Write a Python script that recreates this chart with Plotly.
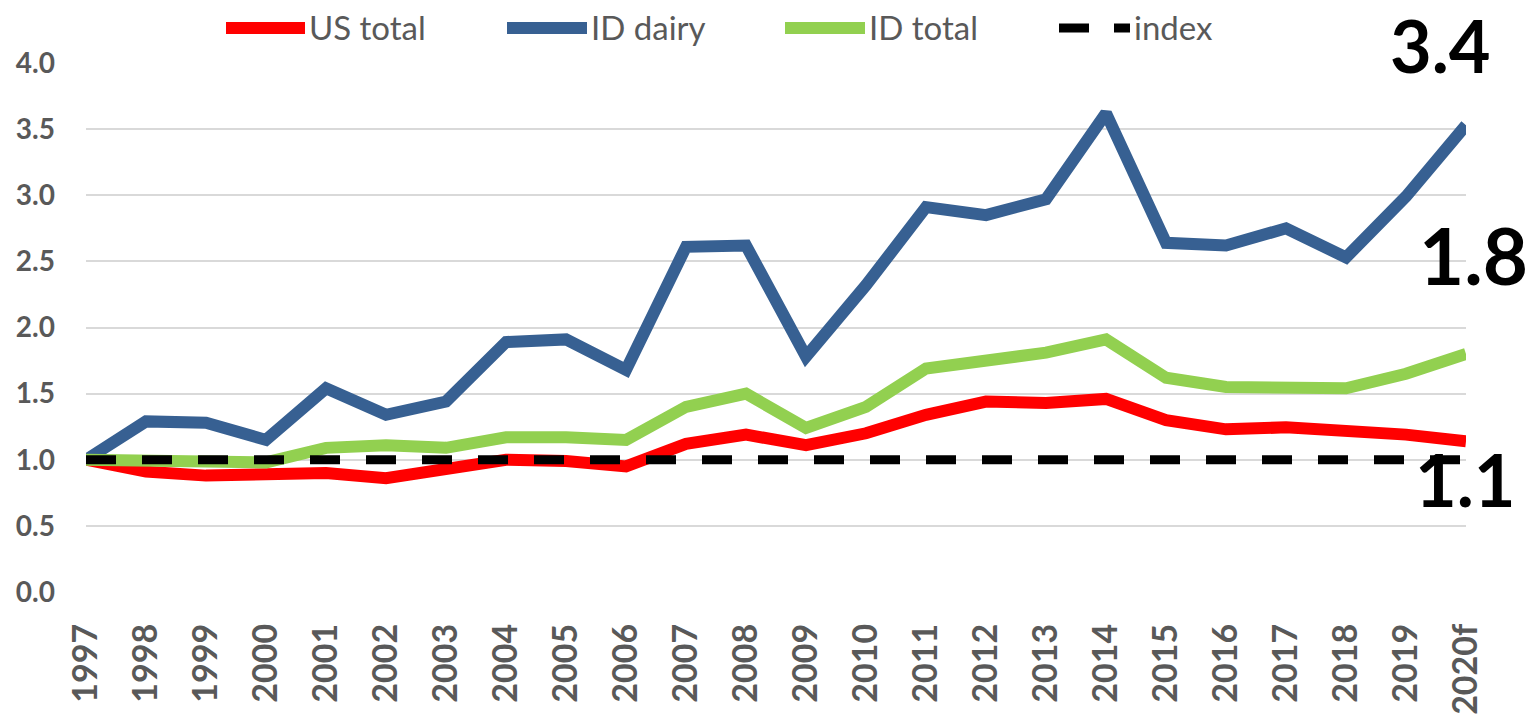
import plotly.graph_objects as go

years = ["1997", "1998", "1999", "2000", "2001", "2002", "2003", "2004", "2005", "2006",
         "2007", "2008", "2009", "2010", "2011", "2012", "2013", "2014", "2015", "2016",
         "2017", "2018", "2019", "2020f"]
us_total = [1.00, 0.91, 0.88, 0.88, 0.90, 0.86, 0.93, 1.00, 0.99, 0.95,
            1.12, 1.19, 1.11, 1.20, 1.34, 1.44, 1.43, 1.46, 1.30, 1.23,
            1.245, 1.22, 1.19, 1.14]
id_dairy = [1.00, 1.29, 1.28, 1.15, 1.54, 1.34, 1.44, 1.89, 1.91, 1.68,
            2.61, 2.62, 1.78, 2.32, 2.91, 2.85, 2.97, 3.62, 2.64, 2.62,
            2.75, 2.53, 2.99, 3.53]
id_total = [1.00, 1.00, 0.99, 0.98, 1.09, 1.11, 1.09, 1.17, 1.17, 1.15,
            1.40, 1.50, 1.24, 1.40, 1.69, 1.76, 1.81, 1.91, 1.62, 1.55,
            1.545, 1.54, 1.65, 1.80]
index_line = [1.0, 1.0, 1.0, 1.0, 1.0, 1.0, 1.0, 1.0, 1.0, 1.0,
              1.0, 1.0, 1.0, 1.0, 1.0, 1.0, 1.0, 1.0, 1.0, 1.0,
              1.0, 1.0, 1.0, 1.0]
series_names = ["US total", "ID dairy", "ID total", "index"]
y_ticks = [0.0, 0.5, 1.0, 1.5, 2.0, 2.5, 3.0, 3.5, 4.0]
y_tick_text = ["0.0", "0.5", "1.0", "1.5", "2.0", "2.5", "3.0", "3.5", "4.0"]
end_labels = ["3.4", "1.8", "1.1"]

W, H = 1537, 718
L, R, T, B = 86, 1466, 63, 592
FONT = "Lato, 'Open Sans', sans-serif"
GRAY = "#595959"
RED, BLUE, GREEN, BLACK = "#FF0000", "#376092", "#92D050", "#000000"


def px(x):
    return (x - L) / (R - L)


def py(y):
    return (B - y) / (B - T)


fig = go.Figure()
fig.add_trace(go.Scatter(x=years, y=us_total, name=series_names[0], mode="lines",
                         line=dict(color=RED, width=12)))
fig.add_trace(go.Scatter(x=years, y=id_dairy, name=series_names[1], mode="lines",
                         line=dict(color=BLUE, width=12)))
fig.add_trace(go.Scatter(x=years, y=id_total, name=series_names[2], mode="lines",
                         line=dict(color=GREEN, width=12)))
fig.add_trace(go.Scatter(x=years, y=index_line, name=series_names[3], mode="lines",
                         line=dict(color=BLACK, width=9, dash="30px,26px")))

# custom legend (long line samples like the reference)
legend_items = [
    (series_names[0], RED, 226, 305, None, 12),
    (series_names[1], BLUE, 507, 587, None, 12),
    (series_names[2], GREEN, 785, 865, None, 12),
    (series_names[3], BLACK, 1059, 1130, "30px,25px", 9),
]
shapes = []
annotations = []
ly = 28
for name, col, x0, x1, dash, w in legend_items:
    shapes.append(dict(type="line", xref="paper", yref="paper",
                       x0=px(x0), x1=px(x1), y0=py(ly), y1=py(ly),
                       line=dict(color=col, width=w, dash=dash) if dash else dict(color=col, width=w)))
    annotations.append(dict(text=name, xref="paper", yref="paper", x=px(x1 + 2), y=py(ly - 1),
                            xanchor="left", yanchor="middle", showarrow=False,
                            font=dict(family=FONT, size=33, color=GRAY)))

# end value labels (x centre px, anchor y px, yanchor, font size)
label_pos = [(1440, 0, "top", 72), (1474, 255, "middle", 78), (1465, 479, "middle", 72)]
for txt, (x, y, ya, s) in zip(end_labels, label_pos):
    annotations.append(dict(text="<b>%s</b>" % txt, xref="paper", yref="paper", x=px(x), y=py(y),
                            xanchor="center", yanchor=ya, showarrow=False,
                            font=dict(family=FONT, size=s, color="#000000")))

fig.update_layout(
    width=W, height=H,
    margin=dict(l=L, r=W - R, t=T, b=H - B, pad=0, autoexpand=False),
    paper_bgcolor="white", plot_bgcolor="white",
    showlegend=False,
    shapes=shapes,
    annotations=annotations,
    font=dict(family=FONT, color=GRAY),
)
fig.update_xaxes(
    type="category", tickangle=-90, showgrid=False, showline=False, zeroline=False,
    ticks="", tickfont=dict(family=FONT, size=34, color=GRAY, weight="bold"),
    ticklabelstandoff=24, automargin=False,
)
fig.update_yaxes(
    range=[0, 4], tickvals=y_ticks, ticktext=y_tick_text, showgrid=True,
    gridcolor="#D9D9D9", gridwidth=2, zeroline=False, showline=False, ticks="",
    tickfont=dict(family=FONT, size=28, color=GRAY, weight="bold"),
    ticklabelstandoff=30, automargin=False,
)

fig.write_html("out.html", config={"displayModeBar": False},
               post_script="document.body.style.margin='0';document.body.style.overflow='hidden';")
